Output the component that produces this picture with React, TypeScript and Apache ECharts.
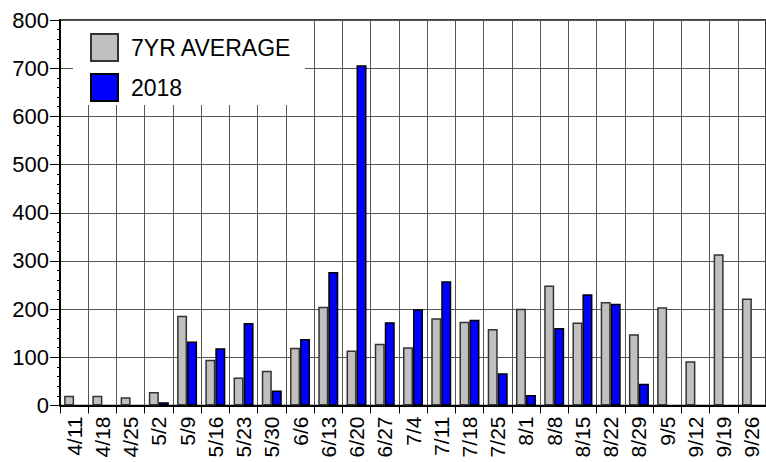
import React, { useEffect, useRef } from "react";
import * as echarts from "echarts";

const categories = ["4/11","4/18","4/25","5/2","5/9","5/16","5/23","5/30","6/6","6/13","6/20","6/27","7/4","7/11","7/18","7/25","8/1","8/8","8/15","8/22","8/29","9/5","9/12","9/19","9/26"];
const avg7yr = [20,20,17,28,186,95,58,72,120,205,114,128,121,181,174,159,201,249,172,215,148,204,92,314,222];
const y2018: (number | null)[] = [null,null,null,7,133,119,171,31,138,277,706,173,200,258,178,67,22,161,231,211,45,null,null,null,null];
const yTicks = { min: 0, max: 800, interval: 100 };

const FONT = "Liberation Sans";

export default function App() {
  const ref = useRef<HTMLDivElement>(null);
  useEffect(() => {
    if (!ref.current) return;
    const chart = echarts.init(ref.current, null, { renderer: "svg" });
    chart.setOption({
      animation: false,
      backgroundColor: "#fff",
      textStyle: { fontFamily: FONT },
      grid: { left: 60, top: 20, width: 711, bottom: 56.5, show: true, borderColor: "#000", borderWidth: 1.5, backgroundColor: "transparent" },
      legend: {
        orient: "vertical",
        left: 85,
        top: 28,
        itemWidth: 27,
        itemHeight: 27,
        itemGap: 11,
        icon: "rect",
        textStyle: { fontSize: 23, color: "#000", fontFamily: FONT, padding: [0, 0, 0, 8] },
        data: ["7YR AVERAGE", "2018"],
      },
      graphic: [
        { type: "rect", z: 3, shape: { x: 73, y: 21, width: 232, height: 84 }, style: { fill: "#fff" } },
      ],
      xAxis: {
        type: "category",
        data: categories,
        boundaryGap: true,
        axisLine: { lineStyle: { color: "#000", width: 2 } },
        axisTick: { show: true, interval: 0, length: 8, lineStyle: { color: "#000", width: 1 } },
        axisLabel: { interval: 0, rotate: 90, fontSize: 21, color: "#000", fontFamily: FONT, margin: 11 },
        splitLine: { show: true, interval: 0, lineStyle: { color: "#555", width: 1 } },
      },
      yAxis: {
        type: "value",
        min: yTicks.min,
        max: yTicks.max,
        interval: yTicks.interval,
        axisLine: { show: true, lineStyle: { color: "#000", width: 2 } },
        axisTick: { show: true, length: 10, lineStyle: { color: "#000", width: 1 } },
        minorTick: { show: true, splitNumber: 5, length: 3, lineStyle: { color: "#000", width: 1 } },
        axisLabel: { fontSize: 22, color: "#000", fontFamily: FONT, margin: 11 },
        splitLine: { show: true, lineStyle: { color: "#555", width: 1 } },
      },
      series: [
        {
          name: "7YR AVERAGE",
          type: "bar",
          data: avg7yr,
          barWidth: 10,
          barGap: "0%",
          itemStyle: { color: "#c0c0c0", borderColor: "#333", borderWidth: 1.5 },
        },
        {
          name: "2018",
          type: "bar",
          data: y2018,
          barWidth: 10,
          barGap: "0%",
          itemStyle: { color: "#0000ff", borderColor: "#000", borderWidth: 1.5 },
        },
      ],
    });
    return () => chart.dispose();
  }, []);
  return <div ref={ref} style={{ position: "fixed", left: 0, top: 0, width: 766, height: 462 }} />;
}
